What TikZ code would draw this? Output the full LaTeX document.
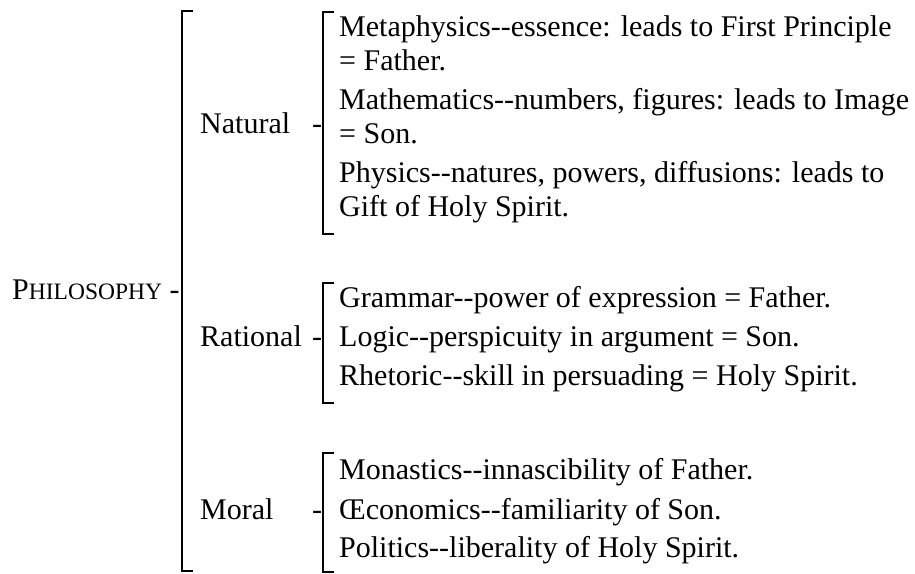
\documentclass[tikz,border=0pt]{standalone}
\usepackage{fontspec}
\setmainfont{Liberation Serif}
\usetikzlibrary{positioning}

\newcommand{\dd}{-\kern0pt-}
\newcommand{\fakesc}[1]{{\fontsize{23.5}{23.5}\selectfont #1}}

\begin{document}
\begin{tikzpicture}[x=1pt,y=-1pt,
  every node/.style={inner sep=0pt,anchor=base west,font=\fontsize{30}{35}\selectfont},
  brak/.style={line width=1.7pt}]
  \newcommand{\sqbrack}[3]{
    \draw[brak] ({#1+11},#2) -- (#1,#2) -- (#1,#3) -- ({#1+11},#3);
  }
  \useasboundingbox (0,0) rectangle (915,573);
  % whole division
  \node (philo) at (12,299) {P\fakesc{HILOSOPHY} -};
  \sqbrack{182}{11}{571}
  % the three branches
  \node (natural) at (200,133) {\makebox[112pt][l]{Natural}-};
  \node (rational) at (200,346) {\makebox[112pt][l]{Rational}-};
  \node (moral) at (200,519) {\makebox[112pt][l]{Moral}-};
  \sqbrack{323}{12}{234}
  \sqbrack{323}{283}{403}
  \sqbrack{323}{453}{572}
  % the parts
  \foreach \nm/\yy/\txt in {
      meta/36/{Metaphysics\dd essence: leads to First Principle},
      metab/70/{= Father.},
      math/109/{Mathematics\dd numbers, figures: leads to Image},
      mathb/143/{= Son.},
      phys/182/{Physics\dd natures, powers, diffusions: leads to},
      physb/216/{Gift of Holy Spirit.},
      gram/307/{Grammar\dd power of expression = Father.},
      logic/346/{Logic\dd perspicuity in argument = Son.},
      rhet/385/{Rhetoric\dd skill in persuading = Holy Spirit.},
      mona/479/{Monastics\dd innascibility of Father.},
      econ/519/{Œconomics\dd familiarity of Son.},
      poli/557/{Politics\dd liberality of Holy Spirit.}} {
    \node (\nm) at (339,\yy) {\txt};
  }
\end{tikzpicture}
\end{document}
